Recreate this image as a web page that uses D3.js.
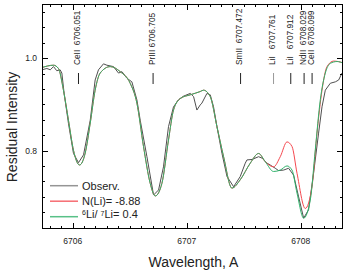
<!DOCTYPE html>
<html>
<head>
<meta charset="utf-8">
<script src="https://cdn.jsdelivr.net/npm/d3@7"></script>
<style>
  body { margin: 0; background: #fff; }
  svg { font-family: "Liberation Sans", Arial, sans-serif; }
</style>
</head>
<body>
<div id="chart"></div>
<script>
"use strict";

// observed spectrum
var obsWave = [6705.731, 6705.774, 6705.803, 6705.832, 6705.861, 6705.890, 6705.905, 6705.925, 6705.963, 6706.007,
  6706.051, 6706.095, 6706.154, 6706.197, 6706.226, 6706.270, 6706.300, 6706.358, 6706.402, 6706.432,
  6706.475, 6706.519, 6706.563, 6706.592, 6706.651, 6706.709, 6706.753, 6706.796, 6706.840, 6706.884,
  6706.928, 6706.972, 6707.031, 6707.060, 6707.089, 6707.118, 6707.133, 6707.177, 6707.206, 6707.235,
  6707.265, 6707.309, 6707.353, 6707.411, 6707.469, 6707.513, 6707.528, 6707.572, 6707.630, 6707.660,
  6707.704, 6707.732, 6707.776, 6707.805, 6707.849, 6707.893, 6707.937, 6707.981, 6708.025, 6708.068,
  6708.112, 6708.156, 6708.186, 6708.215, 6708.259, 6708.303, 6708.332, 6708.361, 6708.390];
var obsFlux = [0.975, 0.978, 0.975, 0.982, 0.973, 0.975, 0.968, 0.924, 0.859, 0.794,
  0.774, 0.791, 0.866, 0.953, 0.975, 0.988, 0.985, 0.982, 0.968, 0.971,
  0.957, 0.949, 0.910, 0.866, 0.787, 0.704, 0.715, 0.765, 0.852, 0.895,
  0.910, 0.918, 0.924, 0.917, 0.888, 0.899, 0.903, 0.924, 0.921, 0.895,
  0.852, 0.794, 0.744, 0.722, 0.744, 0.773, 0.780, 0.781, 0.787, 0.784,
  0.773, 0.769, 0.762, 0.757, 0.758, 0.762, 0.747, 0.700, 0.654, 0.672,
  0.751, 0.838, 0.895, 0.931, 0.946, 0.949, 0.953, 0.968, 0.971];

// synthetic, 6Li/7Li = 0.4
var li6Wave = [6705.731, 6705.832, 6705.875, 6705.919, 6705.963, 6706.007, 6706.060, 6706.110, 6706.154, 6706.197,
  6706.241, 6706.329, 6706.417, 6706.504, 6706.563, 6706.621, 6706.680, 6706.724, 6706.782, 6706.840,
  6706.884, 6706.943, 6707.031, 6707.118, 6707.147, 6707.206, 6707.265, 6707.323, 6707.396, 6707.469,
  6707.557, 6707.630, 6707.689, 6707.761, 6707.820, 6707.879, 6707.923, 6707.967, 6708.025, 6708.083,
  6708.127, 6708.171, 6708.215, 6708.259, 6708.318, 6708.375];
var li6Flux = [0.980, 0.985, 0.978, 0.931, 0.866, 0.801, 0.769, 0.795, 0.860, 0.931,
  0.968, 0.982, 0.971, 0.946, 0.903, 0.809, 0.729, 0.702, 0.729, 0.823,
  0.888, 0.913, 0.921, 0.928, 0.931, 0.917, 0.852, 0.787, 0.719, 0.737,
  0.773, 0.794, 0.776, 0.755, 0.758, 0.767, 0.758, 0.708, 0.654, 0.693,
  0.802, 0.910, 0.968, 0.989, 0.993, 0.989];

// synthetic, N(Li) = -8.88
var nliWave = [6705.731, 6705.832, 6705.875, 6705.919, 6705.963, 6706.007, 6706.060, 6706.110, 6706.154, 6706.197,
  6706.241, 6706.329, 6706.417, 6706.504, 6706.563, 6706.621, 6706.680, 6706.724, 6706.782, 6706.840,
  6706.884, 6706.943, 6707.031, 6707.118, 6707.147, 6707.206, 6707.265, 6707.323, 6707.396, 6707.469,
  6707.557, 6707.630, 6707.689, 6707.761, 6707.820, 6707.879, 6707.923, 6707.967, 6708.039, 6708.098,
  6708.142, 6708.186, 6708.230, 6708.288, 6708.375];
var nliFlux = [0.980, 0.985, 0.978, 0.931, 0.866, 0.801, 0.769, 0.795, 0.860, 0.931,
  0.968, 0.982, 0.971, 0.946, 0.903, 0.809, 0.729, 0.702, 0.729, 0.823,
  0.888, 0.913, 0.921, 0.928, 0.931, 0.917, 0.852, 0.787, 0.719, 0.737,
  0.773, 0.794, 0.776, 0.765, 0.787, 0.819, 0.809, 0.751, 0.675, 0.722,
  0.838, 0.931, 0.982, 0.994, 0.990];

// line identifications
var lineNames = ["CeII  6706.051", "PrIII 6706.705", "SmII  6707.472", "LiI   6707.761", "LiI   6707.912", "NdII  6708.029", "CeII  6708.099"];
var lineWave = [6706.051, 6706.705, 6707.472, 6707.761, 6707.912, 6708.029, 6708.099];

var legendLabels = ["Observ.", "N(Li)= -8.88", "6Li/7Li= 0.4"];
var xTicks = [6706, 6707, 6708];
var yTicks = [0.8, 1.0];

var width = 346, height = 272;
var margin = {top: 4, right: 3, bottom: 43, left: 42};
var colors = ["#505050", "#f5484f", "#2fb26a"];

var svg = d3.select("#chart").append("svg")
  .attr("width", width)
  .attr("height", height);

var x = d3.scaleLinear().domain([6705.731, 6708.37]).range([margin.left, width - margin.right]);
var y = d3.scaleLinear().domain([0.6305, 1.1175]).range([height - margin.bottom, margin.top]);

svg.append("clipPath").attr("id", "clip").append("rect")
  .attr("x", margin.left).attr("y", margin.top)
  .attr("width", width - margin.left - margin.right)
  .attr("height", height - margin.top - margin.bottom);

function series(wv, fl) {
  return wv.map(function(d, i) { return {w: d, f: fl[i]}; });
}

var smooth = d3.line().x(function(d) { return x(d.w); }).y(function(d) { return y(d.f); }).curve(d3.curveMonotoneX);
var straight = d3.line().x(function(d) { return x(d.w); }).y(function(d) { return y(d.f); });

var plot = svg.append("g").attr("clip-path", "url(#clip)");
plot.append("path").datum(series(obsWave, obsFlux))
  .attr("d", straight).attr("fill", "none").attr("stroke", colors[0]).attr("stroke-width", 1);
plot.append("path").datum(series(nliWave, nliFlux))
  .attr("d", smooth).attr("fill", "none").attr("stroke", colors[1]).attr("stroke-width", 1);
plot.append("path").datum(series(li6Wave, li6Flux))
  .attr("d", smooth).attr("fill", "none").attr("stroke", colors[2]).attr("stroke-width", 1);

// frame + inward ticks
var x0 = margin.left, x1 = width - margin.right, y0 = margin.top, y1 = height - margin.bottom;
var axes = svg.append("g").attr("stroke", "#000").attr("stroke-width", 1);

var xMinor = d3.range(6705.8, 6708.4, 0.1).filter(function(v) { return v < 6708.37; });
xMinor.forEach(function(v) {
  var major = xTicks.some(function(t) { return Math.abs(t - v) < 1e-6; });
  var len = major ? 6 : 3;
  var px = Math.round(x(v)) + 0.5;
  axes.append("line").attr("x1", px).attr("x2", px).attr("y1", y1).attr("y2", y1 - len);
  axes.append("line").attr("x1", px).attr("x2", px).attr("y1", y0).attr("y2", y0 + len);
});

var yMinor = d3.range(19, 34).map(function(k) { return k / 30; }).filter(function(v) { return v > 0.6305 && v < 1.1175; });
yMinor.forEach(function(v) {
  var major = yTicks.some(function(t) { return Math.abs(t - v) < 1e-6; });
  var len = major ? 6 : 3;
  var py = Math.round(y(v)) + 0.5;
  axes.append("line").attr("x1", x0).attr("x2", x0 + len).attr("y1", py).attr("y2", py);
  axes.append("line").attr("x1", x1).attr("x2", x1 - len).attr("y1", py).attr("y2", py);
});

axes.append("rect").attr("x", x0 + 0.5).attr("y", y0 + 0.5)
  .attr("width", x1 - x0 - 1).attr("height", y1 - y0 - 1).attr("fill", "none");

svg.selectAll(".xlab").data(xTicks).enter().append("text")
  .attr("x", function(d) { return x(d); })
  .attr("y", y1 + 15)
  .attr("text-anchor", "middle")
  .attr("font-size", 8.5)
  .attr("fill", "#222")
  .text(function(d) { return d; });

svg.selectAll(".ylab").data(yTicks).enter().append("text")
  .attr("x", x0 - 5)
  .attr("y", function(d) { return y(d); })
  .attr("dy", "0.35em")
  .attr("text-anchor", "end")
  .attr("font-size", 8.5)
  .attr("fill", "#222")
  .text(function(d) { return d3.format(".1f")(d); });

svg.append("text")
  .attr("x", (x0 + x1) / 2 + 1)
  .attr("y", 267)
  .attr("text-anchor", "middle")
  .attr("font-size", 14)
  .attr("fill", "#222")
  .text("Wavelength, A");

svg.append("text")
  .attr("transform", "translate(17," + 127 + ") rotate(-90)")
  .attr("text-anchor", "middle")
  .attr("font-size", 14)
  .attr("fill", "#222")
  .text("Residual Intensity");

// line ids
var ids = svg.append("g");
lineWave.forEach(function(w, i) {
  var px = x(w);
  ids.append("line")
    .attr("x1", px).attr("x2", px).attr("y1", 73).attr("y2", 84)
    .attr("stroke", i === 3 ? "#999" : "#222").attr("stroke-width", 1);
  ids.append("text")
    .attr("transform", "translate(" + (px - 1) + ",65) rotate(-90)")
    .attr("dy", "0.35em")
    .attr("font-size", 8.3)
    .attr("fill", "#222")
    .style("white-space", "pre")
    .text(lineNames[i]);
});

// legend
var legend = svg.append("g");
legendLabels.forEach(function(lab, i) {
  var ly = 185.7 + i * 15.5;
  legend.append("line").attr("x1", 50).attr("x2", 78).attr("y1", ly).attr("y2", ly)
    .attr("stroke", colors[i]).attr("stroke-width", 1.5).attr("opacity", i === 0 ? 0.6 : 0.8);
  var t = legend.append("text").attr("x", 82).attr("y", ly).attr("dy", "0.35em")
    .attr("font-size", 11).attr("fill", "#222");
  if (i === 2) {
    t.append("tspan").attr("font-size", 7).attr("dy", "-0.2em").text("6");
    t.append("tspan").attr("font-size", 11).attr("dy", "0.2em").text("Li/ ");
    t.append("tspan").attr("font-size", 7).attr("dy", "-0.2em").text("7");
    t.append("tspan").attr("font-size", 11).attr("dy", "0.2em").text("Li= 0.4");
  } else {
    t.text(lab);
  }
});
</script>
</body>
</html>
